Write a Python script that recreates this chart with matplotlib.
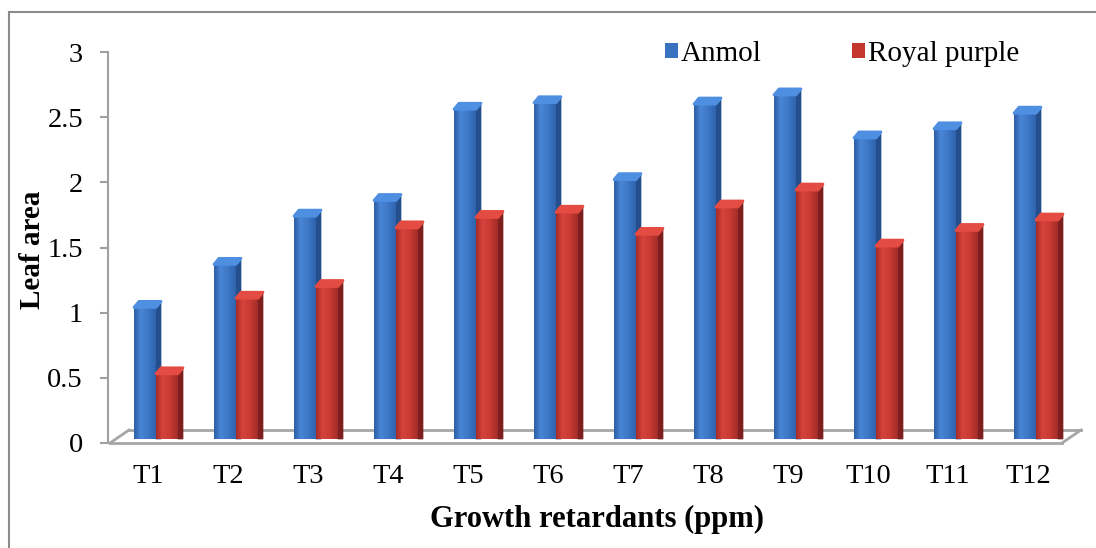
import matplotlib
matplotlib.use('Agg')
import matplotlib.pyplot as plt
import numpy as np
from matplotlib.patches import Polygon
from matplotlib.lines import Line2D
from matplotlib.colors import LinearSegmentedColormap

# ---------------- data ----------------
categories = ['T1', 'T2', 'T3', 'T4', 'T5', 'T6', 'T7', 'T8', 'T9', 'T10', 'T11', 'T12']
anmol = [1.01, 1.34, 1.71, 1.83, 2.53, 2.58, 1.99, 2.57, 2.64, 2.31, 2.38, 2.50]
royal_purple = [0.50, 1.08, 1.17, 1.62, 1.70, 1.74, 1.57, 1.78, 1.91, 1.48, 1.60, 1.68]
series_names = ['Anmol', 'Royal purple']
y_ticks = [0, 0.5, 1, 1.5, 2, 2.5, 3]
y_tick_labels = ['0', '0.5', '1', '1.5', '2', '2.5', '3']
x_title = 'Growth retardants (ppm)'
y_title = 'Leaf area'

plt.rcParams['font.family'] = ['Liberation Serif', 'DejaVu Serif']

W, H = 1096, 548
fig = plt.figure(figsize=(W / 100, H / 100), dpi=100)


def fx(px):
    return px / W


def fy(py):
    return 1 - py / H


ax = fig.add_axes([fx(108), fy(443), 960 / W, 391 / H])
XPX = 80.0          # pixels per category
YPX = 391 / 3.0     # pixels per unit value

x = np.arange(len(categories))
bar_w = 22 / XPX
base = 4 / YPX
dx = 5 / XPX
dy = 6 / YPX

styles = [
    dict(grad=['#2c5fa6', '#4a86d6', '#3d77c6', '#2f63ad'], side='#244f8c', top='#4f8fe2', face='#3a72c2'),
    dict(grad=['#a52b27', '#d6433c', '#c83a33', '#a22c28'], side='#7d1f1c', top='#e34b43', face='#c4372f'),
]
offsets = [-0.0375, -0.0375 + bar_w]
containers = []
for vals, st, off in zip([anmol, royal_purple], styles, offsets):
    cont = ax.bar(x + off, vals, width=bar_w, bottom=base, color=st['face'],
                  linewidth=0, zorder=3)
    containers.append(cont)
    cmap = LinearSegmentedColormap.from_list('g', list(zip([0, 0.3, 0.65, 1], st['grad'])))
    grad = np.linspace(0, 1, 64).reshape(1, -1)
    for rect in cont.patches:
        x0 = rect.get_x()
        x1 = x0 + rect.get_width()
        y0 = rect.get_y()
        y1 = y0 + rect.get_height()
        im = ax.imshow(grad, extent=[x0, x1, y0, y1], cmap=cmap, aspect='auto',
                       interpolation='bilinear', zorder=3.1)
        im.set_clip_path(rect)
        side = Polygon([(x1, y0), (x1 + dx, y0), (x1 + dx, y1 + dy), (x1, y1)],
                       closed=True, facecolor=st['side'], edgecolor=st['side'],
                       linewidth=0.5, zorder=3.05, joinstyle='round')
        ax.add_patch(side)
        top = Polygon([(x0, y1), (x0 + dx, y1 + dy), (x1 + dx, y1 + dy), (x1, y1)],
                      closed=True, facecolor=st['top'], edgecolor=st['top'],
                      linewidth=2, zorder=3.2, joinstyle='round')
        ax.add_patch(top)

ax.set_xlim(-0.5, len(categories) - 0.5)
ax.set_ylim(0, 3)

# floor (3D base)
gray = '#a6a6a6'
fl0 = -0.5 + 2 / XPX
fl1 = len(categories) - 0.5 - 6 / XPX
ddx = 19 / XPX
ddy = 13 / YPX
ax.add_line(Line2D([fl0, fl1], [0, 0], color=gray, lw=2, clip_on=False, zorder=2))
ax.add_line(Line2D([fl0 + ddx, fl1 + ddx], [ddy, ddy], color=gray, lw=2, clip_on=False, zorder=1))
ax.add_line(Line2D([fl0, fl0 + ddx], [0, ddy], color=gray, lw=2, clip_on=False, zorder=2))
ax.add_line(Line2D([fl1, fl1 + ddx], [0, ddy], color=gray, lw=2, clip_on=False, zorder=2))

for s in ['top', 'right', 'bottom']:
    ax.spines[s].set_visible(False)
ax.spines['left'].set_color('#a0a0a0')
ax.spines['left'].set_linewidth(1.5)
ax.set_yticks(y_ticks)
ax.set_yticklabels(y_tick_labels)
ax.tick_params(axis='y', length=6, width=1.5, color='#a0a0a0', labelsize=20.5, pad=12)
ax.set_xticks(x)
ax.set_xticklabels(categories)
ax.tick_params(axis='x', length=0, labelsize=20.5, pad=15)
ax.patch.set_alpha(0)

fig.text(fx(32), fy(250), y_title, rotation=90, fontweight='bold', fontsize=21,
         ha='center', va='center')
fig.text(fx(597), fy(519), x_title, fontweight='bold', fontsize=22,
         ha='center', va='center')

fig.legend(handles=containers, labels=series_names, loc='center left',
           bbox_to_anchor=(fx(665), fy(54)), ncol=2, frameon=False, fontsize=21,
           handlelength=0.45, handleheight=0.45, handletextpad=0.1,
           columnspacing=3.1, borderpad=0, borderaxespad=0)

# outer chart frame
fig.add_artist(Line2D([fx(9), fx(9)], [fy(12), fy(560)], color='#8c8c8c', lw=1.5))
fig.add_artist(Line2D([fx(9), fx(1100)], [fy(12), fy(12)], color='#8c8c8c', lw=1.5))

fig.savefig('out.png', dpi=100)
